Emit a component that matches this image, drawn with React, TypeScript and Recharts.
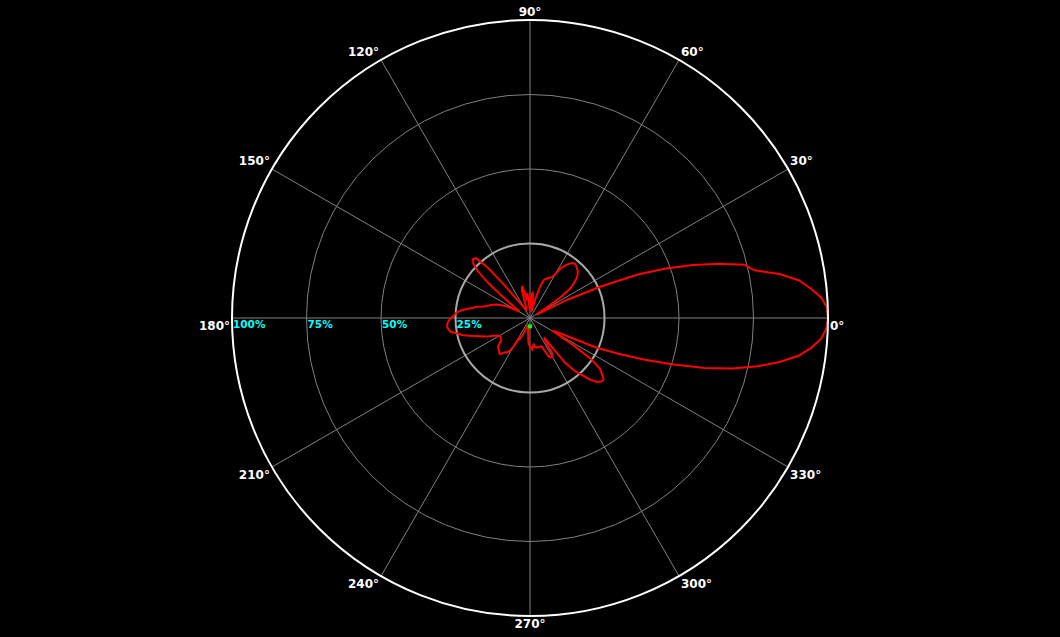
import React from 'react';
import {
  RadarChart,
  Radar,
  PolarGrid,
  PolarAngleAxis,
  PolarRadiusAxis,
} from 'recharts';

// angle of each sample, 2 degree steps, counter-clockwise from 0 deg (east)
const angles = Array.from({ length: 180 }, (_, i) => i * 2);

// relative field strength in %, one value per angle above (rows = 30 deg)
const gain = [
  100, 99.7, 98, 94.7, 91, 85, 77, 74, 66, 57.5, 48.5, 39, 26, 14, 2.5,
  3, 6, 12, 16.5, 18.5, 20.2, 21.5, 22.3, 22.8, 23.3, 23.6, 23.4, 22.5, 21.3, 20,
  17, 15.5, 15, 14.6, 14.1, 13.6, 11.5, 7, 3, 2, 4, 7.5, 8.5, 8, 6,
  4, 3, 5, 8.5, 7.5, 6, 9, 11, 10, 6, 4, 3.5, 3, 3, 3.5,
  4, 5, 6.5, 9, 14, 22, 27, 27.5, 26.5, 23.8, 18.5, 11.5, 7.5, 5.5, 4,
  5, 7, 9, 10.5, 12, 13, 14, 14.8, 16, 18.3, 19.5, 21.5, 23.5, 24.8, 25.5,
  26.5, 27.3, 27.8, 28, 27.6, 27, 25, 23.5, 21.5, 19.5, 17.8, 16.5, 15, 13.5, 12.5,
  12, 11.7, 11.8, 12, 12.2, 13.5, 14.5, 14.8, 15, 15.4, 15.8, 15, 14.2, 14, 13,
  11, 7.5, 7.8, 6.5, 5, 3.2, 2.8, 3, 3.2, 3.3, 3.5, 4.5, 6, 8, 9,
  9.5, 10, 10.5, 9.5, 9, 10, 10.2, 10, 10.2, 10.3, 10.2, 10.2, 12, 14.5, 15,
  15, 14, 9, 8, 19, 23, 25.5, 28.5, 30.8, 32, 32.2, 30.7, 29, 25, 17,
  9, 9.5, 14, 24.5, 32, 41, 50.6, 61, 70, 78, 85, 91, 95, 98, 99.5,
];

const spokeAngles = [0, 30, 60, 90, 120, 150, 180, 210, 240, 270, 300, 330];
const ringLevels = [25, 50, 75, 100];
const markerAngle = 270;
const markerValue = 2.8;

const R = 298;
const TICK_GAP = 8; // recharts' default angle-axis tick offset

const data = angles.map((a, i) => ({
  angle: a,
  gain: gain[i],
  marker: a === markerAngle ? markerValue : 0,
}));

const AngleTick = (props: any) => {
  const { x, y, payload } = props;
  const a = Number(payload.value);
  if (a % 30 !== 0 || a >= 360) return null;
  const rad = (a * Math.PI) / 180;
  const c = Math.cos(rad);
  const s = Math.sin(rad);
  // back to the point on the outer circle
  const bx = x - TICK_GAP * c;
  const by = y + TICK_GAP * s;
  const anchor = Math.abs(c) < 0.01 ? 'middle' : c > 0 ? 'start' : 'end';
  const dx = anchor === 'start' ? 2 : anchor === 'end' ? -2 : 0;
  const dy = a > 0 && a < 180 ? -4 : 12;
  return (
    <text
      x={bx + dx}
      y={by + dy}
      textAnchor={anchor}
      fill="#ffffff"
      fontFamily="DejaVu Sans"
      fontWeight="bold"
      fontSize={12}
    >
      {a}°
    </text>
  );
};

const RadiusTick = (props: any) => {
  const { x, y, payload } = props;
  if (!payload.value) return null;
  return (
    <text
      x={x + 1}
      y={y + 10}
      textAnchor="start"
      fill="#00ffff"
      fontFamily="DejaVu Sans"
      fontWeight="bold"
      fontSize={10.5}
    >
      {payload.value}%
    </text>
  );
};

const MarkerDot = (props: any) => {
  const { cx, cy, payload, index } = props;
  const v = payload?.marker ?? payload?.payload?.marker ?? props.value;
  if (!(Number(v) > 0)) return <g key={`m-${index}`} />;
  return <rect key={`m-${index}`} x={cx - 2} y={cy - 2} width={4} height={4} fill="#00ff00" />;
};

export default function App() {
  return (
    <div style={{ position: 'absolute', left: 0, top: 0, width: 1060, height: 637, background: '#000' }}>
      <RadarChart
        width={1060}
        height={637}
        data={data}
        cx={530}
        cy={318}
        innerRadius={0}
        outerRadius={R}
        startAngle={0}
        endAngle={360}
      >
        <PolarGrid
          gridType="circle"
          polarAngles={spokeAngles}
          polarRadius={ringLevels.slice(1, 3).map(l => (R * l) / 100)}
          stroke="#808080"
          strokeWidth={1}
        />
        <PolarGrid
          gridType="circle"
          radialLines={false}
          polarAngles={spokeAngles}
          polarRadius={[(R * ringLevels[0]) / 100]}
          stroke="#a8a8a8"
          strokeWidth={2}
        />
        <PolarAngleAxis
          dataKey="angle"
          type="number"
          domain={[0, 360]}
          ticks={spokeAngles}
          axisLineType="circle"
          axisLine={{ stroke: '#ffffff', strokeWidth: 2 }}
          tickLine={false}
          tick={AngleTick}
        />
        <PolarRadiusAxis
          angle={180}
          domain={[0, 100]}
          tickCount={5}
          axisLine={false}
          tickLine={false}
          tick={RadiusTick}
        />
        <Radar
          dataKey="gain"
          stroke="#ff0000"
          strokeWidth={2}
          fill="none"
          fillOpacity={0}
          dot={false}
          isAnimationActive={false}
        />
        <Radar
          dataKey="marker"
          stroke="none"
          fill="none"
          fillOpacity={0}
          dot={MarkerDot}
          isAnimationActive={false}
        />
      </RadarChart>
    </div>
  );
}
